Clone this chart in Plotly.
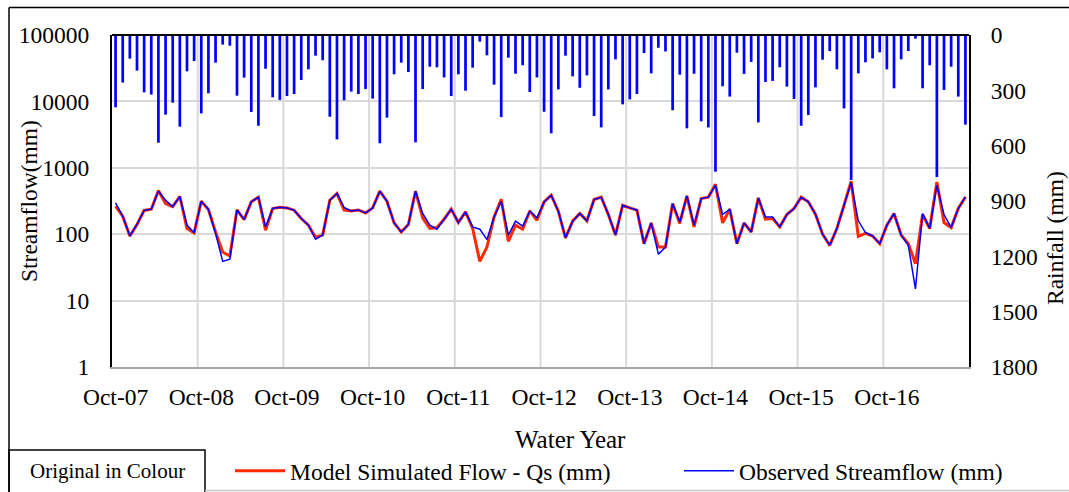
import plotly.graph_objects as go

mon_names = ["Oct", "Nov", "Dec", "Jan", "Feb", "Mar", "Apr", "May", "Jun", "Jul", "Aug", "Sep"]
months = []
for wy in range(7, 17):
    for k, m in enumerate(mon_names):
        yr = wy if k < 3 else wy + 1
        months.append(f"{m}-{yr:02d}")

rainfall = [392, 258, 128, 193, 311, 323, 584, 432, 367, 497, 197, 141,
            425, 316, 150, 52, 58, 329, 231, 417, 492, 183, 338, 352,
            331, 320, 244, 186, 112, 137, 443, 566, 354, 307, 320, 293,
            345, 587, 448, 213, 150, 201, 582, 293, 172, 175, 230, 331,
            213, 302, 177, 36, 110, 269, 445, 123, 210, 164, 309, 230,
            416, 533, 295, 112, 224, 286, 219, 439, 501, 295, 132, 376,
            349, 320, 98, 208, 69, 89, 408, 215, 506, 210, 468, 501,
            741, 278, 334, 96, 211, 146, 474, 255, 249, 175, 280, 347,
            492, 434, 284, 134, 87, 186, 398, 786, 208, 148, 127, 94,
            186, 289, 132, 87, 20, 289, 164, 770, 298, 172, 334, 486]

observed = [296, 187, 94, 140, 228, 238, 445, 325, 261, 370, 137, 105,
            314, 236, 103, 39, 42, 232, 166, 307, 361, 129, 244, 255,
            249, 230, 172, 137, 84, 97, 325, 410, 252, 224, 232, 209,
            249, 445, 314, 148, 108, 140, 445, 205, 137, 119, 168, 238,
            150, 217, 129, 119, 83, 182, 314, 97, 157, 132, 224, 176,
            307, 387, 222, 88, 157, 205, 159, 333, 361, 198, 97, 273,
            249, 230, 72, 148, 50, 64, 290, 153, 378, 137, 344, 361,
            547, 198, 238, 72, 148, 108, 352, 182, 181, 129, 198, 244,
            361, 307, 200, 100, 68, 122, 273, 600, 159, 106, 94, 72,
            137, 205, 97, 68, 15, 205, 122, 547, 198, 126, 244, 364]

simulated = [264, 187, 94, 140, 228, 238, 455, 290, 261, 370, 122, 105,
             314, 236, 108, 54, 47, 232, 166, 307, 361, 115, 244, 255,
             249, 230, 172, 137, 90, 97, 325, 410, 230, 224, 232, 209,
             249, 445, 314, 148, 108, 140, 445, 176, 122, 126, 168, 238,
             150, 217, 122, 39, 64, 182, 336, 78, 137, 119, 224, 162,
             307, 387, 222, 88, 157, 205, 159, 333, 361, 198, 97, 273,
             249, 230, 72, 148, 64, 64, 290, 145, 378, 129, 344, 361,
             566, 148, 238, 72, 148, 108, 352, 168, 172, 129, 198, 244,
             361, 307, 200, 100, 68, 122, 273, 628, 93, 103, 94, 72,
             137, 205, 97, 72, 36, 198, 122, 612, 150, 126, 244, 364]

flow_ticks = [1, 10, 100, 1000, 10000, 100000]
flow_ticktext = ["1", "10", "100", "1000", "10000", "100000"]
rain_ticks = [0, 300, 600, 900, 1200, 1500, 1800]
year_ticks = months[::12]

FONT = "Liberation Serif"
FS = 23.5
fig = go.Figure()
fig.add_trace(go.Bar(x=months, y=rainfall, yaxis="y", marker_color="#0000FF",
                     marker_line_width=0, showlegend=False, name="Rainfall (mm)"))
fig.add_trace(go.Scatter(x=months, y=simulated, yaxis="y2", mode="lines",
                         line=dict(color="#FF2A00", width=3), legendwidth=384,
                         name="Model Simulated Flow - Qs (mm)"))
fig.add_trace(go.Scatter(x=months, y=observed, yaxis="y2", mode="lines",
                         line=dict(color="#0000FF", width=1.5),
                         name="Observed Streamflow (mm)"))

L, R, T, B = 112, 100, 35, 125
W, H = 1069, 492
pw, ph = W - L - R, H - T - B
def px(x):
    return (x - L) / pw
def py(y):
    return (H - B - y) / ph

# vertical gridlines at the water-year boundaries (between Sep and Oct)
year_bounds = [i - 0.5 for i in range(12, len(months), 12)]
grid_shapes = [dict(type="line", xref="x", yref="paper", x0=b, x1=b, y0=0, y1=1,
                    layer="below", line=dict(color="#d9d9d9", width=2))
               for b in year_bounds]

fig.update_layout(
    width=W, height=H,
    margin=dict(l=L, r=R, t=T, b=B, autoexpand=False),
    paper_bgcolor="white", plot_bgcolor="white",
    font=dict(family=FONT, size=FS, color="black"),
    bargap=0.62,
    xaxis=dict(type="category", range=[-0.5, 119.5], tickmode="array",
               tickvals=year_ticks, ticktext=year_ticks,
               showgrid=False,
               showline=True, linecolor="#a6a6a6", linewidth=1.5,
               ticks="", tickangle=0, ticklabelstandoff=8,
               tickfont=dict(family=FONT, size=FS)),
    yaxis=dict(range=[1800, 0], tickmode="array", tickvals=rain_ticks,
               side="right", showgrid=False, zeroline=False,
               showline=True, linecolor="black", linewidth=2,
               ticks="", ticklabelstandoff=15,
               tickfont=dict(family=FONT, size=FS)),
    yaxis2=dict(type="log", range=[0, 5], tickmode="array", tickvals=flow_ticks,
                ticktext=flow_ticktext, overlaying="y", side="left",
                showgrid=True, gridcolor="#d9d9d9", gridwidth=2,
                showline=True, linecolor="black", linewidth=2,
                ticks="", ticklabelstandoff=16,
                tickfont=dict(family=FONT, size=FS)),
    legend=dict(orientation="h", x=px(230), xanchor="left", y=py(471), yanchor="middle",
                bgcolor="rgba(0,0,0,0)", font=dict(family=FONT, size=FS), itemwidth=50),
    shapes=grid_shapes + [
        dict(type="line", xref="paper", yref="paper", x0=0, x1=1, y0=1, y1=1,
             line=dict(color="black", width=2)),
        dict(type="line", xref="paper", yref="paper", x0=px(9), x1=px(1075),
             y0=py(7.5), y1=py(7.5), line=dict(color="black", width=1.5)),
        dict(type="line", xref="paper", yref="paper", x0=px(9), x1=px(9),
             y0=py(7.5), y1=py(500), line=dict(color="black", width=1.5)),
        dict(type="rect", xref="paper", yref="paper", x0=px(9), x1=px(205),
             y0=py(450), y1=py(500), line=dict(color="black", width=1.5)),
        dict(type="line", xref="paper", yref="paper", x0=px(205), x1=px(1075),
             y0=py(490.5), y1=py(490.5), line=dict(color="#c8c8c8", width=1.5)),
    ],
    annotations=[
        dict(text="Streamflow(mm)", xref="paper", yref="paper", x=px(29), y=py(201),
             textangle=-90, showarrow=False, font=dict(family=FONT, size=FS),
             xanchor="center", yanchor="middle"),
        dict(text="Rainfall (mm)", xref="paper", yref="paper", x=px(1055), y=py(238),
             textangle=-90, showarrow=False, font=dict(family=FONT, size=FS),
             xanchor="center", yanchor="middle"),
        dict(text="Water Year", xref="paper", yref="paper", x=px(570), y=py(439),
             showarrow=False, font=dict(family=FONT, size=25),
             xanchor="center", yanchor="middle"),
        dict(text="Original in Colour", xref="paper", yref="paper", x=px(107), y=py(471),
             showarrow=False, font=dict(family=FONT, size=21),
             xanchor="center", yanchor="middle"),
    ],
)

fig.write_html("out.html", config={"displayModeBar": False},
               post_script="document.body.style.margin='0px';")
